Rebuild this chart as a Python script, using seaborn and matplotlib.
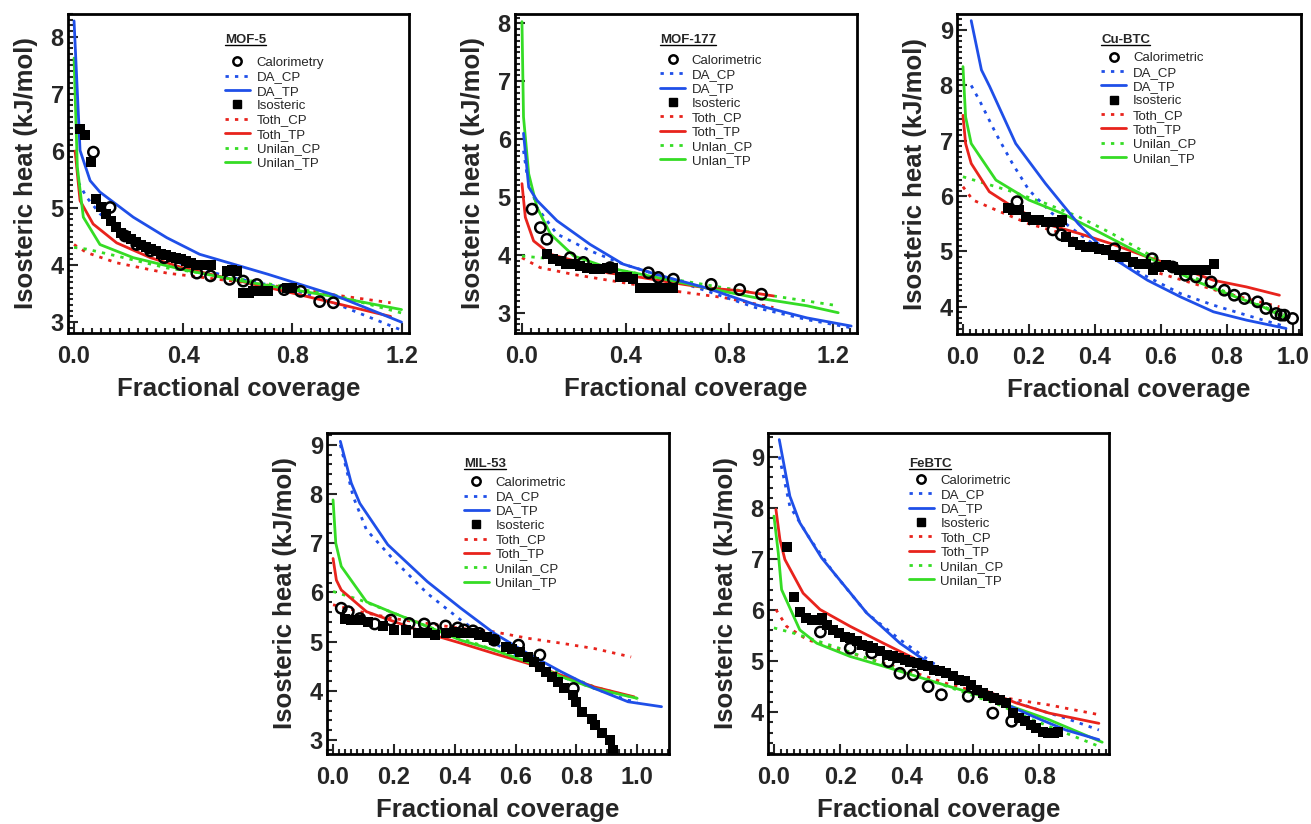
import matplotlib
matplotlib.use("Agg")
import matplotlib.pyplot as plt
import seaborn as sns
import pandas as pd
from matplotlib.lines import Line2D
from matplotlib.ticker import MultipleLocator

# ---- data: (coverage, heat kJ/mol) ----
# MOF-5
mof5_cal = [(0.071, 5.98), (0.132, 5.01), (0.187, 4.51), (0.23, 4.36), (0.28, 4.25), (0.33, 4.13),
            (0.39, 4.01), (0.45, 3.86), (0.50, 3.81), (0.57, 3.75), (0.62, 3.72), (0.67, 3.66),
            (0.77, 3.57), (0.83, 3.54), (0.90, 3.36), (0.95, 3.34)]
mof5_iso = [(0.022, 6.39), (0.04, 6.28), (0.061, 5.80), (0.08, 5.16), (0.10, 5.01), (0.117, 4.89),
            (0.135, 4.78), (0.154, 4.66), (0.172, 4.57), (0.19, 4.51), (0.209, 4.45), (0.227, 4.41),
            (0.245, 4.36), (0.264, 4.32), (0.282, 4.28), (0.30, 4.24), (0.319, 4.20), (0.337, 4.18),
            (0.355, 4.15), (0.374, 4.13), (0.392, 4.11), (0.41, 4.08), (0.428, 4.04), (0.447, 4.01),
            (0.465, 4.01), (0.484, 4.01), (0.502, 4.01), (0.56, 3.89), (0.58, 3.92), (0.596, 3.90),
            (0.62, 3.51), (0.64, 3.51), (0.657, 3.54), (0.676, 3.54), (0.693, 3.54), (0.71, 3.54),
            (0.78, 3.60), (0.80, 3.60)]
mof5_da_cp = [(0.016, 5.45), (0.046, 5.19), (0.095, 4.90), (0.17, 4.60), (0.28, 4.28), (0.40, 4.01),
              (0.58, 3.78), (0.80, 3.57), (0.95, 3.34), (1.20, 2.86)]
mof5_da_tp = [(0.0, 8.28), (0.022, 6.01), (0.059, 5.48), (0.095, 5.28), (0.217, 4.84), (0.34, 4.48),
              (0.46, 4.19), (0.71, 3.84), (0.95, 3.48), (1.20, 3.00)]
mof5_toth_cp = [(0.0, 4.36), (0.046, 4.22), (0.156, 4.04), (0.34, 3.86), (0.58, 3.72), (0.80, 3.60),
                (0.95, 3.48), (1.16, 3.34)]
mof5_toth_tp = [(0.004, 6.0), (0.022, 5.13), (0.07, 4.72), (0.156, 4.39), (0.28, 4.13), (0.40, 3.95),
                (0.58, 3.75), (0.80, 3.51), (0.95, 3.34), (1.16, 3.10)]
mof5_uni_cp = [(0.0, 4.31), (0.046, 4.28), (0.156, 4.16), (0.34, 3.95), (0.58, 3.78), (0.80, 3.60),
               (0.95, 3.48), (1.20, 3.16)]
mof5_uni_tp = [(0.0, 7.63), (0.012, 5.72), (0.034, 4.84), (0.095, 4.36), (0.217, 4.13), (0.40, 3.92),
               (0.58, 3.75), (0.80, 3.57), (0.95, 3.45), (1.20, 3.22)]

# MOF-177
mof177_cal = [(0.039, 4.79), (0.071, 4.47), (0.096, 4.27), (0.186, 3.95), (0.237, 3.87), (0.34, 3.78),
              (0.488, 3.69), (0.526, 3.61), (0.584, 3.58), (0.73, 3.49), (0.84, 3.40), (0.924, 3.32)]
mof177_iso = [(0.096, 4.01), (0.12, 3.92), (0.148, 3.90), (0.17, 3.84), (0.20, 3.84), (0.225, 3.81),
              (0.25, 3.78), (0.276, 3.75), (0.30, 3.75), (0.327, 3.78), (0.353, 3.78), (0.38, 3.61),
              (0.404, 3.61), (0.43, 3.58), (0.456, 3.43), (0.48, 3.42), (0.507, 3.42), (0.533, 3.42),
              (0.558, 3.42), (0.584, 3.42)]
mof177_da_cp = [(0.006, 5.80), (0.019, 5.40), (0.058, 4.82), (0.135, 4.36), (0.263, 4.07), (0.39, 3.84),
                (0.52, 3.66), (0.71, 3.38), (0.90, 3.09), (1.10, 2.88), (1.27, 2.74)]
mof177_da_tp = [(0.006, 6.10), (0.026, 5.17), (0.058, 4.94), (0.135, 4.59), (0.263, 4.18), (0.39, 3.84),
                (0.52, 3.66), (0.71, 3.43), (0.90, 3.14), (1.10, 2.91), (1.27, 2.77)]
mof177_toth_cp = [(0.0, 3.95), (0.07, 3.78), (0.20, 3.66), (0.39, 3.52), (0.58, 3.38), (0.78, 3.26),
                  (0.97, 3.09)]
mof177_toth_tp = [(0.0, 5.23), (0.013, 4.65), (0.045, 4.24), (0.11, 4.01), (0.20, 3.90), (0.33, 3.69),
                  (0.46, 3.61), (0.58, 3.52), (0.71, 3.43), (0.84, 3.38), (0.97, 3.29)]
mof177_uni_cp = [(0.0, 3.98), (0.07, 3.95), (0.20, 3.90), (0.39, 3.72), (0.58, 3.58), (0.78, 3.43),
                 (0.97, 3.29), (1.22, 3.12)]
mof177_uni_tp = [(0.0, 8.03), (0.006, 6.38), (0.026, 5.40), (0.058, 4.82), (0.11, 4.36), (0.20, 3.98),
                 (0.33, 3.78), (0.52, 3.61), (0.71, 3.43), (0.90, 3.26), (1.10, 3.12), (1.22, 3.00)]

# Cu-BTC
cubtc_cal = [(0.164, 5.90), (0.273, 5.39), (0.298, 5.30), (0.46, 5.05), (0.574, 4.87), (0.636, 4.72),
             (0.675, 4.57), (0.707, 4.54), (0.753, 4.45), (0.793, 4.30), (0.823, 4.21), (0.854, 4.15),
             (0.894, 4.09), (0.919, 3.97), (0.95, 3.88), (0.965, 3.85), (0.975, 3.85), (1.0, 3.79)]
cubtc_iso = [(0.136, 5.78), (0.152, 5.75), (0.17, 5.75), (0.19, 5.63), (0.212, 5.57), (0.232, 5.57),
             (0.253, 5.54), (0.273, 5.54), (0.293, 5.54), (0.30, 5.57), (0.313, 5.27), (0.333, 5.17),
             (0.354, 5.11), (0.374, 5.08), (0.394, 5.08), (0.414, 5.05), (0.434, 5.02), (0.455, 4.93),
             (0.475, 4.90), (0.495, 4.90), (0.515, 4.81), (0.535, 4.78), (0.556, 4.78), (0.576, 4.66),
             (0.596, 4.72), (0.616, 4.75), (0.636, 4.72), (0.656, 4.66), (0.676, 4.66), (0.697, 4.66),
             (0.717, 4.66), (0.737, 4.66), (0.763, 4.78)]
cubtc_da_cp = [(0.025, 8.0), (0.05, 7.73), (0.10, 7.13), (0.15, 6.59), (0.20, 6.11), (0.27, 5.69),
               (0.35, 5.33), (0.45, 4.90), (0.56, 4.54), (0.66, 4.24), (0.76, 4.03), (0.86, 3.85),
               (0.98, 3.64)]
cubtc_da_tp = [(0.025, 9.17), (0.056, 8.28), (0.081, 7.98), (0.16, 6.95), (0.25, 6.23), (0.35, 5.50),
               (0.45, 4.90), (0.56, 4.48), (0.66, 4.18), (0.76, 3.91), (0.86, 3.76), (0.98, 3.61)]
cubtc_toth_cp = [(0.0, 6.17), (0.03, 5.93), (0.10, 5.75), (0.20, 5.50), (0.30, 5.33), (0.40, 5.08),
                 (0.50, 4.84), (0.60, 4.60), (0.70, 4.42), (0.80, 4.24), (0.96, 4.0)]
cubtc_toth_tp = [(0.0, 7.46), (0.008, 6.95), (0.025, 6.59), (0.08, 6.08), (0.15, 5.81), (0.25, 5.50),
                 (0.35, 5.33), (0.45, 5.14), (0.56, 4.90), (0.66, 4.70), (0.76, 4.48), (0.86, 4.36),
                 (0.96, 4.21)]
cubtc_uni_cp = [(0.0, 6.35), (0.05, 6.26), (0.15, 6.08), (0.25, 5.87), (0.35, 5.63), (0.45, 5.33),
                (0.56, 4.96), (0.66, 4.66), (0.76, 4.36), (0.86, 4.12), (0.98, 3.85)]
cubtc_uni_tp = [(0.0, 8.34), (0.008, 7.43), (0.025, 6.95), (0.10, 6.29), (0.20, 5.93), (0.30, 5.69),
                (0.40, 5.39), (0.50, 5.08), (0.60, 4.78), (0.70, 4.48), (0.80, 4.24), (0.91, 4.0),
                (0.98, 3.79)]

# MIL-53
mil53_cal = [(0.027, 5.68), (0.05, 5.61), (0.088, 5.47), (0.137, 5.36), (0.19, 5.44), (0.25, 5.37),
             (0.30, 5.36), (0.33, 5.27), (0.37, 5.32), (0.41, 5.28), (0.43, 5.24), (0.46, 5.22),
             (0.48, 5.17), (0.53, 5.03), (0.61, 4.93), (0.68, 4.73), (0.79, 4.05)]
mil53_iso = [(0.038, 5.47), (0.06, 5.44), (0.088, 5.44), (0.115, 5.41), (0.165, 5.31), (0.20, 5.24),
             (0.24, 5.24), (0.28, 5.17), (0.31, 5.17), (0.335, 5.14), (0.37, 5.17), (0.40, 5.20),
             (0.42, 5.17), (0.45, 5.17), (0.48, 5.14), (0.505, 5.10), (0.53, 5.03), (0.57, 4.90),
             (0.59, 4.86), (0.615, 4.80), (0.64, 4.69), (0.66, 4.59), (0.68, 4.49), (0.70, 4.39),
             (0.72, 4.29), (0.74, 4.19), (0.76, 4.05), (0.79, 3.92), (0.80, 3.78), (0.82, 3.58),
             (0.85, 3.44), (0.86, 3.31), (0.885, 3.14), (0.91, 3.0), (0.92, 2.80)]
mil53_da_cp = [(0.024, 9.0), (0.066, 7.95), (0.11, 7.27), (0.20, 6.66), (0.31, 5.98), (0.42, 5.44),
               (0.53, 4.97), (0.64, 4.59), (0.75, 4.29), (0.86, 4.05), (0.97, 3.81), (1.0, 3.78)]
mil53_da_tp = [(0.024, 9.07), (0.06, 8.22), (0.088, 7.81), (0.18, 6.97), (0.31, 6.22), (0.42, 5.68),
               (0.53, 5.17), (0.64, 4.76), (0.75, 4.39), (0.86, 4.05), (0.97, 3.78), (1.08, 3.68)]
mil53_toth_cp = [(0.0, 5.75), (0.088, 5.61), (0.20, 5.47), (0.31, 5.37), (0.42, 5.27), (0.53, 5.20),
                 (0.64, 5.07), (0.75, 4.97), (0.86, 4.86), (0.98, 4.69)]
mil53_toth_tp = [(0.0, 6.69), (0.011, 6.25), (0.027, 6.05), (0.11, 5.61), (0.20, 5.41), (0.31, 5.17),
                 (0.42, 4.97), (0.53, 4.76), (0.64, 4.56), (0.75, 4.32), (0.86, 4.08), (0.99, 3.88)]
mil53_uni_cp = [(0.0, 6.02), (0.088, 5.85), (0.20, 5.58), (0.31, 5.31), (0.42, 5.07), (0.53, 4.83),
                (0.64, 4.59), (0.75, 4.36), (0.86, 4.08), (1.0, 3.85)]
mil53_uni_tp = [(0.0, 7.88), (0.009, 7.0), (0.027, 6.53), (0.11, 5.81), (0.20, 5.58), (0.31, 5.31),
                (0.42, 5.03), (0.53, 4.83), (0.64, 4.59), (0.75, 4.29), (0.86, 4.05), (1.0, 3.85)]

# FeBTC
febtc_cal = [(0.14, 5.57), (0.23, 5.25), (0.295, 5.16), (0.345, 4.99), (0.38, 4.76), (0.42, 4.73),
             (0.465, 4.50), (0.505, 4.34), (0.586, 4.31), (0.66, 3.98), (0.717, 3.82)]
febtc_iso = [(0.04, 7.23), (0.061, 6.25), (0.078, 5.97), (0.096, 5.84), (0.115, 5.81), (0.133, 5.81),
             (0.145, 5.84), (0.16, 5.71), (0.177, 5.61), (0.195, 5.55), (0.213, 5.48), (0.23, 5.45),
             (0.25, 5.39), (0.267, 5.32), (0.285, 5.29), (0.30, 5.25), (0.32, 5.19), (0.34, 5.12),
             (0.358, 5.09), (0.376, 5.06), (0.394, 5.03), (0.41, 4.99), (0.43, 4.96), (0.448, 4.93),
             (0.466, 4.90), (0.484, 4.83), (0.50, 4.80), (0.52, 4.76), (0.54, 4.70), (0.557, 4.63),
             (0.575, 4.60), (0.593, 4.54), (0.611, 4.44), (0.629, 4.37), (0.647, 4.31), (0.665, 4.27),
             (0.683, 4.24), (0.70, 4.18), (0.72, 3.98), (0.738, 3.88), (0.756, 3.82), (0.774, 3.75),
             (0.79, 3.69), (0.81, 3.62), (0.828, 3.59), (0.846, 3.59), (0.857, 3.62)]
febtc_da_cp = [(0.016, 9.01), (0.048, 8.03), (0.11, 7.38), (0.18, 6.73), (0.28, 5.94), (0.38, 5.42),
               (0.48, 4.96), (0.58, 4.57), (0.68, 4.31), (0.78, 4.08), (0.88, 3.88), (0.98, 3.65)]
febtc_da_tp = [(0.016, 9.34), (0.048, 8.23), (0.078, 7.71), (0.144, 7.02), (0.28, 5.94), (0.38, 5.35),
               (0.48, 4.90), (0.58, 4.54), (0.68, 4.21), (0.78, 3.92), (0.88, 3.65), (0.98, 3.46)]
febtc_toth_cp = [(0.006, 6.01), (0.038, 5.68), (0.10, 5.42), (0.23, 5.16), (0.33, 4.96), (0.43, 4.76),
                 (0.53, 4.54), (0.63, 4.37), (0.73, 4.24), (0.83, 4.14), (0.98, 3.95)]
febtc_toth_tp = [(0.006, 7.97), (0.018, 7.38), (0.033, 6.99), (0.088, 6.33), (0.139, 6.01), (0.23, 5.68),
                 (0.33, 5.35), (0.43, 5.03), (0.53, 4.70), (0.63, 4.44), (0.73, 4.18), (0.83, 3.98),
                 (0.98, 3.78)]
febtc_uni_cp = [(0.0, 5.65), (0.058, 5.55), (0.18, 5.29), (0.28, 5.06), (0.38, 4.83), (0.48, 4.60),
                (0.58, 4.37), (0.68, 4.14), (0.78, 3.85), (0.88, 3.59), (0.98, 3.33)]
febtc_uni_tp = [(0.0, 7.84), (0.013, 7.12), (0.023, 6.40), (0.078, 5.61), (0.129, 5.35), (0.23, 5.09),
                (0.33, 4.90), (0.43, 4.70), (0.53, 4.50), (0.63, 4.31), (0.73, 4.08), (0.83, 3.85),
                (0.99, 3.41)]

labels_std = ["Calorimetric", "DA_CP", "DA_TP", "Isosteric", "Toth_CP", "Toth_TP", "Unilan_CP", "Unilan_TP"]
labels_mof5 = ["Calorimetry"] + labels_std[1:]
labels_mof177 = labels_std[:6] + ["Unlan_CP", "Unlan_TP"]

BLUE, RED, GREEN = "#1f4fe8", "#e8231c", "#35dc25"
DOT = (0, (1.2, 2.2))

sns.set_style("ticks")
plt.rcParams["font.family"] = ["Liberation Sans", "DejaVu Sans"]

fig = plt.figure(figsize=(13.11, 8.24), dpi=100)

panels = [
    # title, data, labels, rect, xlim, ylim, xticks, yticks, xminor, yminor, (legend x, title y, entries y)
    ("MOF-5", (mof5_cal, mof5_iso, mof5_da_cp, mof5_da_tp, mof5_toth_cp, mof5_toth_tp, mof5_uni_cp, mof5_uni_tp),
     labels_mof5, [0.0519, 0.5959, 0.260, 0.387], (-0.022, 1.227), (2.81, 8.40),
     [0.0, 0.4, 0.8, 1.2], [3, 4, 5, 6, 7, 8], 0.4 / 12, 0.1, (0.46, 0.937, 0.866)),
    ("MOF-177", (mof177_cal, mof177_iso, mof177_da_cp, mof177_da_tp, mof177_toth_cp, mof177_toth_tp, mof177_uni_cp, mof177_uni_tp),
     labels_mof177, [0.3928, 0.5959, 0.261, 0.387], (-0.027, 1.293), (2.65, 8.16),
     [0.0, 0.4, 0.8, 1.2], [3, 4, 5, 6, 7, 8], 0.4 / 12, 0.1, (0.424, 0.937, 0.874)),
    ("Cu-BTC", (cubtc_cal, cubtc_iso, cubtc_da_cp, cubtc_da_tp, cubtc_toth_cp, cubtc_toth_tp, cubtc_uni_cp, cubtc_uni_tp),
     labels_std, [0.730, 0.5947, 0.262, 0.3883], (-0.018, 1.024), (3.51, 9.29),
     [0.0, 0.2, 0.4, 0.6, 0.8, 1.0], [4, 5, 6, 7, 8, 9], 0.02, 0.1, (0.42, 0.937, 0.881)),
    ("MIL-53", (mil53_cal, mil53_iso, mil53_da_cp, mil53_da_tp, mil53_toth_cp, mil53_toth_tp, mil53_uni_cp, mil53_uni_tp),
     labels_std, [0.2494, 0.085, 0.261, 0.3896], (-0.02, 1.105), (2.72, 9.24),
     [0.0, 0.2, 0.4, 0.6, 0.8, 1.0], [3, 4, 5, 6, 7, 8, 9], 0.02, 0.2, (0.40, 0.922, 0.864)),
    ("FeBTC", (febtc_cal, febtc_iso, febtc_da_cp, febtc_da_tp, febtc_toth_cp, febtc_toth_tp, febtc_uni_cp, febtc_uni_tp),
     labels_std, [0.5858, 0.085, 0.260, 0.3896], (-0.018, 1.01), (3.18, 9.47),
     [0.0, 0.2, 0.4, 0.6, 0.8], [4, 5, 6, 7, 8, 9], 0.02, 0.2, (0.413, 0.922, 0.871)),
]

titles = []
for name, data, labels, rect, xlim, ylim, xt, yt, xmin_step, ymin_step, lpos in panels:
    cal, iso, da_cp, da_tp, toth_cp, toth_tp, uni_cp, uni_tp = data
    ax = fig.add_axes(rect)

    curves = [(toth_cp, RED, DOT), (uni_cp, GREEN, DOT), (da_cp, BLUE, DOT),
              (toth_tp, RED, "-"), (uni_tp, GREEN, "-"), (da_tp, BLUE, "-")]
    for pts, col, ls in curves:
        d = pd.DataFrame(pts, columns=["x", "y"])
        sns.lineplot(data=d, x="x", y="y", ax=ax, color=col, linestyle=ls, lw=2,
                     sort=False, estimator=None)

    d_iso = pd.DataFrame(iso, columns=["x", "y"])
    sns.scatterplot(data=d_iso, x="x", y="y", ax=ax, marker="s", color="black", s=55,
                    edgecolor="black", linewidth=0, zorder=5)
    d_cal = pd.DataFrame(cal, columns=["x", "y"])
    ax.scatter(d_cal["x"], d_cal["y"], marker="o", s=55, facecolors="none",
               edgecolors="black", linewidths=1.8, zorder=6)

    ax.set_xlim(*xlim)
    ax.set_ylim(*ylim)
    ax.set_xticks(xt)
    ax.set_xticklabels([f"{v:.1f}" for v in xt])
    ax.set_yticks(yt)
    ax.xaxis.set_minor_locator(MultipleLocator(xmin_step))
    ax.yaxis.set_minor_locator(MultipleLocator(ymin_step))
    ax.tick_params(which="both", direction="in", top=False, right=False, width=1.5)
    ax.tick_params(which="major", length=7)
    ax.tick_params(which="minor", length=3.5)
    ax.tick_params(axis="x", which="major", labelsize=17, pad=9)
    ax.tick_params(axis="y", which="major", labelsize=17, pad=3)
    for lab in ax.get_xticklabels() + ax.get_yticklabels():
        lab.set_fontweight("bold")
    for sp in ax.spines.values():
        sp.set_linewidth(2)
        sp.set_color("black")
    ax.set_xlabel("Fractional coverage", fontsize=18.5, fontweight="bold", labelpad=6)
    ax.set_ylabel("Isosteric heat (kJ/mol)", fontsize=18.5, fontweight="bold", labelpad=9)

    handles = [
        Line2D([], [], marker="o", ls="none", mfc="none", mec="black", mew=1.8, ms=6),
        Line2D([], [], color=BLUE, ls=DOT, lw=2),
        Line2D([], [], color=BLUE, ls="-", lw=2),
        Line2D([], [], marker="s", ls="none", color="black", ms=6),
        Line2D([], [], color=RED, ls=DOT, lw=2),
        Line2D([], [], color=RED, ls="-", lw=2),
        Line2D([], [], color=GREEN, ls=DOT, lw=2),
        Line2D([], [], color=GREEN, ls="-", lw=2),
    ]
    lx, ty, ly = lpos
    ax.legend(handles, labels, loc="upper left", bbox_to_anchor=(lx, ly),
              frameon=False, fontsize=9.5, handlelength=1.9, handletextpad=0.5,
              labelspacing=0.16, borderpad=0, borderaxespad=0)
    t = ax.text(lx, ty, name, transform=ax.transAxes, ha="left", va="top",
                fontsize=9.5, fontweight="bold")
    titles.append(t)

# underline the panel titles
fig.savefig("out.png", dpi=100)
inv = fig.transFigure.inverted()
for t in titles:
    bb = t.get_window_extent()
    (x0, y0), (x1, _) = inv.transform([(bb.x0, bb.y0 + 1), (bb.x1, bb.y0 + 1)])
    fig.add_artist(Line2D([x0, x1], [y0, y0], transform=fig.transFigure, color="black", lw=1))

fig.savefig("out.png", dpi=100)
